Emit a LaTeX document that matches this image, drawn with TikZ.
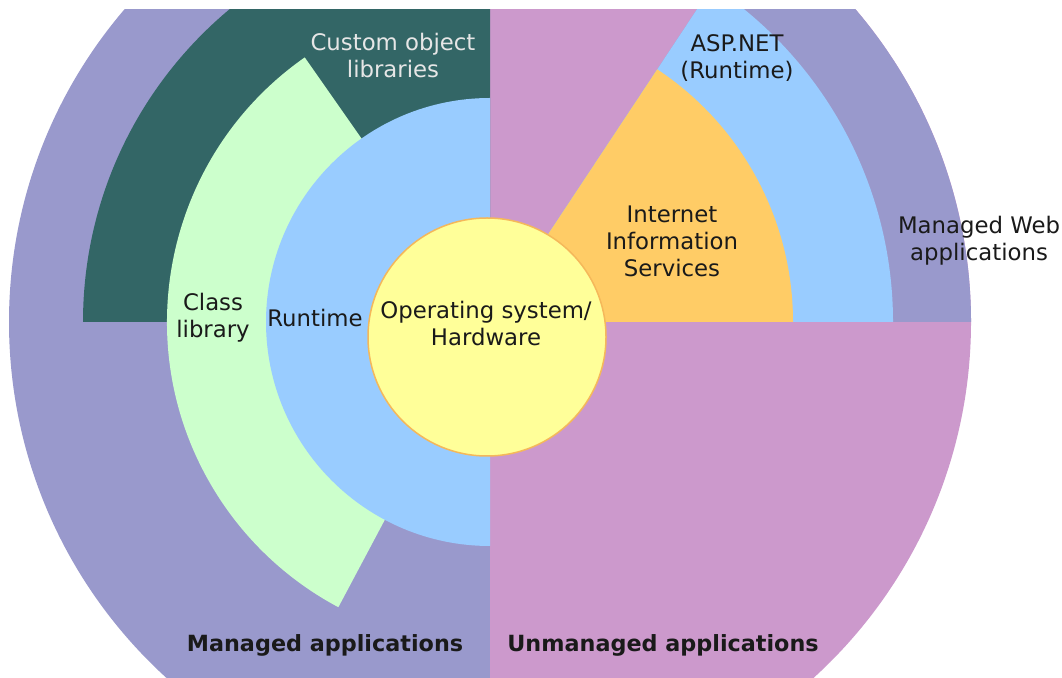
\documentclass[tikz,border=0pt]{standalone}
\usepackage{fontspec}
\setmainfont{DejaVu Sans}
\definecolor{mgd}{HTML}{9999CC}
\definecolor{umg}{HTML}{CC99CC}
\definecolor{dkg}{HTML}{336666}
\definecolor{ltg}{HTML}{CCFFCC}
\definecolor{blu}{HTML}{99CCFF}
\definecolor{org}{HTML}{FFCC66}
\definecolor{yel}{HTML}{FFFF99}
\definecolor{yedge}{HTML}{F5B85A}
\definecolor{txt}{HTML}{1A1A1A}
\definecolor{wtxt}{HTML}{E6E6E6}
\begin{document}
\begin{tikzpicture}[x=1pt,y=1pt,
  lbl/.style={font=\fontsize{22.8}{27}\selectfont, align=center, text=txt, inner sep=0pt},
  wlbl/.style={lbl, text=wtxt},
  blbl/.style={font=\fontsize{22.3}{25}\selectfont\bfseries, text=txt, inner sep=0pt}]
\useasboundingbox (0,0) rectangle (1062,677);
\fill[white] (0,0) rectangle (1062,677);
\coordinate (C) at (490,355);
\begin{scope}
\clip (0,0) rectangle (1062,667);
\fill[mgd] (C) -- ++(90:481) arc[start angle=90,end angle=270,radius=481] -- cycle;
\fill[umg] (C) -- ++(-90:481) arc[start angle=-90,end angle=90,radius=481] -- cycle;
\fill[mgd] (C) -- ++(0:481) arc[start angle=0,end angle=56.5,radius=481] -- cycle;
\fill[dkg] (C) -- ++(90:407) arc[start angle=90,end angle=180,radius=407] -- cycle;
\fill[ltg] (C) -- ++(125:323) arc[start angle=125,end angle=242,radius=323] -- cycle;
\fill[blu] (C) -- ++(90:224) arc[start angle=90,end angle=270,radius=224] -- cycle;
\fill[blu] (C) -- ++(0:403) arc[start angle=0,end angle=56.5,radius=403] -- cycle;
\fill[org] (C) -- ++(0:303) arc[start angle=0,end angle=56.5,radius=303] -- cycle;
\end{scope}
\node[circle, fill=yel, draw=yedge, line width=1.5pt, minimum size=238pt, inner sep=0pt] (os) at (487,340) {};
\node[lbl] (osl) at (486,353) {Operating system/\\Hardware};
\node[wlbl] (col) at (393,621.5) {Custom object\\libraries};
\node[lbl] (asp) at (737,618.5) {ASP.NET\\(Runtime)};
\node[lbl] (iis) at (672,436) {Internet\\Information\\Services};
\node[lbl] (mweb) at (979,436) {Managed Web\\applications};
\node[lbl] (cls) at (213,359.5) {Class\\library};
\node[lbl] (rt) at (315,359) {Runtime};
\node[blbl] (mapp) at (325,32) {Managed applications};
\node[blbl] (uapp) at (663,32) {Unmanaged applications};
\end{tikzpicture}
\end{document}
